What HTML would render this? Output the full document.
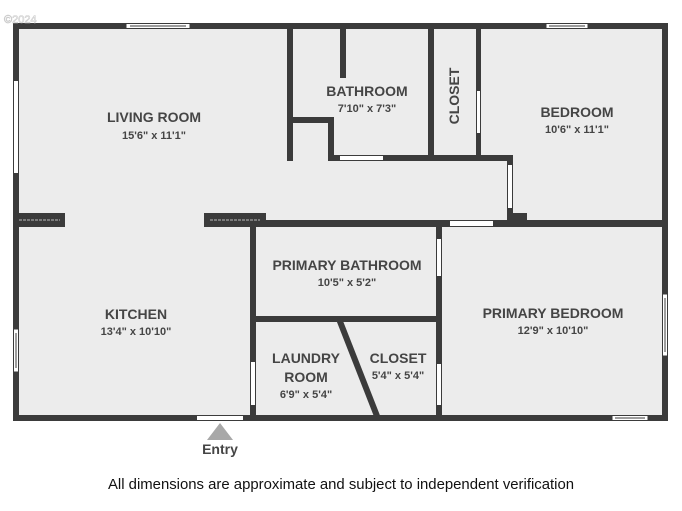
<!DOCTYPE html>
<html><head><meta charset="utf-8"><style>
html,body{margin:0;padding:0;background:#fff;width:682px;height:511px;overflow:hidden}
svg{display:block}
.t{font-family:"Liberation Sans",sans-serif;font-weight:bold;fill:#454545;text-anchor:middle}
.n{font-size:14px}
.d{font-size:11px}
</style></head><body>
<svg width="682" height="511" viewBox="0 0 682 511">
<rect x="16" y="26" width="649" height="392" fill="#ececec"/>
<g fill="#3b3b3b">
<rect x="13" y="23" width="655" height="6"/>
<rect x="13" y="23" width="6" height="398"/>
<rect x="662" y="23" width="6" height="398"/>
<rect x="13" y="415" width="655" height="6"/>
<rect x="287" y="23" width="6" height="138"/>
<rect x="287" y="117" width="47" height="6"/>
<rect x="328" y="117" width="6" height="44"/>
<rect x="328" y="155" width="185" height="6"/>
<rect x="340" y="23" width="6" height="55"/>
<rect x="428" y="23" width="6" height="138"/>
<rect x="476" y="23" width="5" height="138"/>
<rect x="507" y="155" width="6" height="67"/>
<rect x="507" y="213" width="20" height="9"/>
<rect x="205" y="220" width="463" height="7"/>
<rect x="13" y="213" width="52" height="14"/>
<rect x="204" y="213" width="62" height="14"/>
<rect x="250" y="220" width="6" height="201"/>
<rect x="436" y="220" width="6" height="201"/>
<rect x="250" y="316" width="192" height="6"/>
<line x1="339" y1="319" x2="377" y2="416" stroke="#3b3b3b" stroke-width="6"/>
</g>
<g fill="#fff">
<rect x="340" y="156" width="43" height="4"/>
<rect x="477" y="91" width="3" height="42"/>
<rect x="508" y="165" width="4" height="43"/>
<rect x="450" y="221" width="43" height="5"/>
<rect x="251" y="362" width="4" height="43"/>
<rect x="437" y="239" width="4" height="37"/>
<rect x="437" y="364" width="4" height="41"/>
<rect x="197" y="416" width="46" height="4"/>
<rect x="14" y="81" width="4" height="92"/>
</g>
<line x1="19" y1="220" x2="60" y2="220" stroke="#bbb" stroke-width="1" stroke-dasharray="3,1"/>
<line x1="210" y1="220" x2="260" y2="220" stroke="#bbb" stroke-width="1" stroke-dasharray="3,1"/>
<g fill="#fff" stroke="#3b3b3b" stroke-width="1">
<rect x="126" y="23.5" width="64" height="5"/>
<line x1="130" y1="26" x2="186" y2="26"/>
<rect x="546" y="23.5" width="42" height="5"/>
<line x1="549" y1="26" x2="585" y2="26"/>
<rect x="13.5" y="329" width="5" height="43"/>
<line x1="16" y1="333" x2="16" y2="368"/>
<rect x="662.5" y="294" width="5" height="62"/>
<line x1="665" y1="298" x2="665" y2="352"/>
<rect x="612" y="415.5" width="36" height="5"/>
<line x1="615" y1="418" x2="645" y2="418"/>
</g>
<polygon points="220,423 233,440 207,440" fill="#a8a8a8"/>
<text class="t" x="220" y="454" font-size="14">Entry</text>
<text class="t n" x="154" y="122">LIVING ROOM</text>
<text class="t d" x="154" y="139">15'6" x 11'1"</text>
<text class="t n" x="367" y="96">BATHROOM</text>
<text class="t d" x="367" y="112">7'10" x 7'3"</text>
<text class="t n" transform="translate(459,96) rotate(-90)">CLOSET</text>
<text class="t n" x="577" y="117">BEDROOM</text>
<text class="t d" x="577" y="133">10'6" x 11'1"</text>
<text class="t n" x="347" y="270">PRIMARY BATHROOM</text>
<text class="t d" x="347" y="286">10'5" x 5'2"</text>
<text class="t n" x="553" y="318">PRIMARY BEDROOM</text>
<text class="t d" x="553" y="334">12'9" x 10'10"</text>
<text class="t n" x="136" y="319">KITCHEN</text>
<text class="t d" x="136" y="335">13'4" x 10'10"</text>
<text class="t n" x="306" y="363">LAUNDRY</text>
<text class="t n" x="306" y="382">ROOM</text>
<text class="t d" x="306" y="398">6'9" x 5'4"</text>
<text class="t n" x="398" y="363">CLOSET</text>
<text class="t d" x="398" y="379">5'4" x 5'4"</text>
<text x="4" y="23" font-family="Liberation Sans,sans-serif" font-size="11" fill="#fff" stroke="#ccc" stroke-width="0.6">©2024</text>
<text x="341" y="489" font-family="Liberation Sans,sans-serif" font-size="14.9" fill="#111" text-anchor="middle">All dimensions are approximate and subject to independent verification</text>
</svg>
</body></html>
